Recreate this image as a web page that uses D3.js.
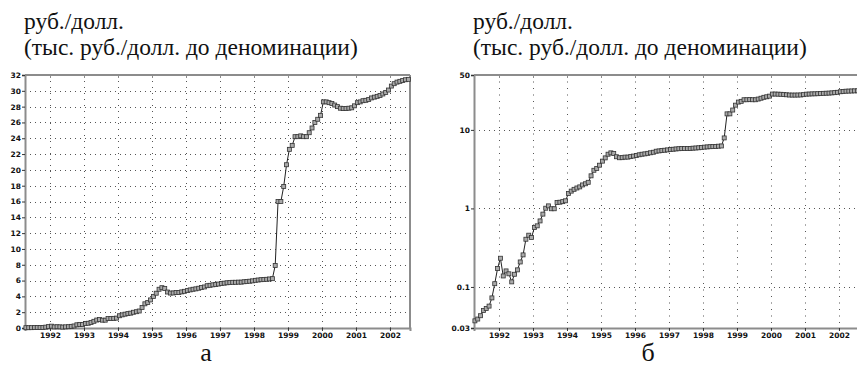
<!DOCTYPE html>
<html>
<head>
<meta charset="utf-8">
<script src="https://cdn.jsdelivr.net/npm/d3@7"></script>
<style>
  html, body { margin: 0; padding: 0; background: #fff; }
  svg { display: block; }
</style>
</head>
<body>
<script>
// Monthly ruble / US dollar exchange rate (thousand rubles before the 1998 redenomination)
const firstYear = 1991, firstMonth = 4; // series starts in April 1991
const rates1991 = [0.037, 0.039, 0.043, 0.050, 0.053, 0.057, 0.0725, 0.110, 0.172];
const rates1992 = [0.232, 0.138, 0.160, 0.147, 0.116, 0.145, 0.165, 0.208, 0.256, 0.405, 0.456, 0.427];
const rates1993 = [0.572, 0.600, 0.693, 0.846, 1.006, 1.077, 0.990, 0.990, 1.190, 1.200, 1.220, 1.250];
const rates1994 = [1.55, 1.66, 1.75, 1.82, 1.88, 1.99, 2.06, 2.15, 2.60, 3.06, 3.23, 3.55];
const rates1995 = [4.00, 4.40, 4.90, 5.10, 5.00, 4.55, 4.42, 4.43, 4.50, 4.50, 4.57, 4.64];
const rates1996 = [4.73, 4.82, 4.90, 4.95, 5.03, 5.11, 5.19, 5.35, 5.40, 5.46, 5.51, 5.56];
const rates1997 = [5.63, 5.67, 5.72, 5.76, 5.78, 5.78, 5.80, 5.80, 5.85, 5.88, 5.92, 5.96];
const rates1998 = [6.03, 6.07, 6.11, 6.13, 6.16, 6.20, 6.24, 7.90, 16.0, 16.0, 17.9, 20.65];
const rates1999 = [22.6, 23.1, 24.2, 24.2, 24.3, 24.2, 24.2, 24.7, 25.3, 26.0, 26.4, 26.9];
const rates2000 = [28.6, 28.6, 28.5, 28.4, 28.2, 28.0, 27.8, 27.75, 27.75, 27.8, 27.85, 28.1];
const rates2001 = [28.5, 28.6, 28.75, 28.8, 28.9, 29.1, 29.2, 29.3, 29.4, 29.6, 29.8, 30.1];
const rates2002 = [30.6, 30.9, 31.1, 31.2, 31.3, 31.4, 31.45];

const yearTicks = [1992, 1993, 1994, 1995, 1996, 1997, 1998, 1999, 2000, 2001, 2002];
const linearTicks = [0, 2, 4, 6, 8, 10, 12, 14, 16, 18, 20, 22, 24, 26, 28, 30, 32];
const logTicks = [0.03, 0.1, 1, 10, 50];
const titleLines = ["руб./долл.", "(тыс. руб./долл. до деноминации)"];
const panelNames = ["а", "б"];

const allRates = [].concat(rates1991, rates1992, rates1993, rates1994, rates1995, rates1996,
  rates1997, rates1998, rates1999, rates2000, rates2001, rates2002);
// each monthly value is placed in the middle of its month
const series = allRates.map((v, i) => {
  const m = firstMonth - 1 + i;
  return { t: firstYear + Math.floor(m / 12) + ((m % 12) + 0.5) / 12, v };
});

const W = 857, H = 367;
const svg = d3.select("body").append("svg").attr("width", W).attr("height", H);

const serifFont = "'Times New Roman', 'Liberation Serif', 'DejaVu Serif', serif";
const tickFont = "'DejaVu Sans', sans-serif";
const plotTop = 75, plotBottom = 328;
const tDomain = [1991.265, 2002.59];
const axisGray = "#8c8c8c";

function panel(opts) {
  const { left, width, y, yTicks, yFormat, hGrid, vDash, label, labelX } = opts;
  const right = left + width;
  const x = d3.scaleLinear().domain(tDomain).range([left, right]);
  const g = svg.append("g");

  // title above the plot
  const title = g.append("text")
    .attr("font-family", serifFont).attr("font-size", 23.5).attr("fill", "#111")
    .style("font-family", serifFont)
    .attr("x", left - 1).attr("y", 29);
  titleLines.forEach((s, i) => title.append("tspan").attr("x", left - 1).attr("dy", i ? 26 : 0).text(s));

  // dotted grid
  g.append("g").selectAll("line").data(hGrid).join("line")
    .attr("x1", left).attr("x2", right)
    .attr("y1", d => Math.round(y(d)) + 0.5).attr("y2", d => Math.round(y(d)) + 0.5)
    .attr("stroke", "#555").attr("stroke-width", 1).attr("stroke-dasharray", "1,4");
  g.append("g").selectAll("line").data(yearTicks).join("line")
    .attr("x1", d => Math.round(x(d)) + 0.5).attr("x2", d => Math.round(x(d)) + 0.5)
    .attr("y1", plotTop).attr("y2", plotBottom)
    .attr("stroke", "#555").attr("stroke-width", 1).attr("stroke-dasharray", vDash);

  // short marks under the top frame line
  g.append("g").selectAll("line").data(yearTicks).join("line")
    .attr("x1", d => Math.round(x(d)) + 0.5).attr("x2", d => Math.round(x(d)) + 0.5)
    .attr("y1", plotTop).attr("y2", plotTop + 3)
    .attr("stroke", axisGray).attr("stroke-width", 1);

  // frame: top and right
  g.append("line").attr("x1", left).attr("x2", right).attr("y1", plotTop).attr("y2", plotTop)
    .attr("stroke", axisGray).attr("stroke-width", 2);
  g.append("line").attr("x1", right).attr("x2", right).attr("y1", plotTop).attr("y2", plotBottom)
    .attr("stroke", axisGray).attr("stroke-width", 2);

  // axes
  const ax = g.append("g").attr("transform", `translate(0,${plotBottom})`)
    .call(d3.axisBottom(x).tickValues(yearTicks).tickFormat(d3.format("d")).tickSize(3).tickPadding(1.5));
  const ay = g.append("g").attr("transform", `translate(${left},0)`)
    .call(d3.axisLeft(y).tickValues(yTicks).tickFormat(yFormat).tickSize(3).tickPadding(1));
  [ax, ay].forEach(a => {
    a.select(".domain").attr("stroke", axisGray).attr("stroke-width", 2);
    a.selectAll(".tick line").attr("stroke", "#333");
    a.selectAll(".tick text").style("font-family", tickFont).style("font-weight", "bold")
      .style("font-size", "7.5px").attr("fill", "#111");
  });

  // series line and square markers
  g.append("path").datum(series)
    .attr("fill", "none").attr("stroke", "#222").attr("stroke-width", 1)
    .attr("d", d3.line().x(d => x(d.t)).y(d => y(d.v)));
  const s = 4;
  g.append("g").selectAll("rect").data(series).join("rect")
    .attr("x", d => x(d.t) - s / 2).attr("y", d => y(d.v) - s / 2)
    .attr("width", s).attr("height", s)
    .attr("fill", "#aaaaaa").attr("stroke", "#333").attr("stroke-width", 0.8);

  g.append("text").style("font-family", serifFont).attr("font-size", 26).attr("fill", "#111")
    .attr("x", labelX).attr("y", 361)
    .attr("text-anchor", "middle").text(label);
}

panel({
  left: 25, width: 385,
  y: d3.scaleLinear().domain([0, 32]).range([plotBottom, plotTop]),
  yTicks: linearTicks, yFormat: d3.format("d"),
  hGrid: linearTicks.filter(d => d > 0 && d < 32),
  vDash: "1,5",
  label: panelNames[0], labelX: 206
});

panel({
  left: 474, width: 385,
  y: d3.scaleLog().domain([0.03, 50]).range([plotBottom, plotTop]),
  yTicks: logTicks, yFormat: d => String(d),
  hGrid: [0.1, 1, 10],
  vDash: "1,5.5",
  label: panelNames[1], labelX: 648
});
</script>
</body>
</html>
